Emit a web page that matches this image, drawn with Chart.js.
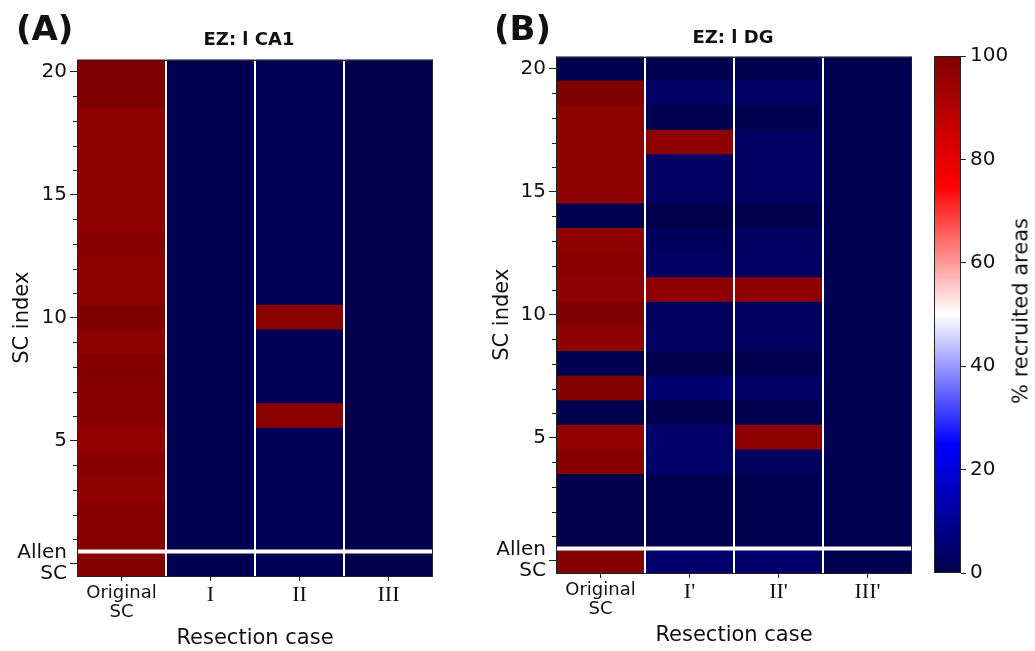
<!DOCTYPE html>
<html>
<head>
<meta charset="utf-8">
<script src="https://cdn.jsdelivr.net/npm/chart.js@4/dist/chart.umd.min.js"></script>
<style>
  body { margin: 0; background: #fff; }
  #fig { position: relative; width: 1035px; height: 651px; overflow: hidden; font-family: "DejaVu Sans", sans-serif; color: #111; }
  #fig canvas { position: absolute; top: 0; }
  .tag { position: absolute; font-weight: bold; font-size: 34px; line-height: 1; }
  .ttl { position: absolute; font-weight: bold; font-size: 18px; line-height: 1; white-space: nowrap; transform: translateX(-50%); }
  .cblabel { position: absolute; font-size: 21px; line-height: 1; white-space: nowrap; transform: translate(-50%, -50%) rotate(-90deg); }
</style>
</head>
<body>
<div id="fig">
  <canvas id="heatA" width="445" height="651" style="left:0"></canvas>
  <canvas id="heatB" width="445" height="651" style="left:480px"></canvas>
  <canvas id="cbar" width="110" height="651" style="left:925px"></canvas>
  <div class="tag" style="left:16px; top:11px">(A)</div>
  <div class="tag" style="left:494px; top:11px">(B)</div>
  <div class="ttl" style="left:249px; top:30px">EZ: l CA1</div>
  <div class="ttl" style="left:733px; top:28px">EZ: l DG</div>
  <div class="cblabel" style="left:1021px; top:311px">% recruited areas</div>
</div>
<script>
// SC index on the y axis, 0 is the Allen SC row
const scIndex = [0, 1, 2, 3, 4, 5, 6, 7, 8, 9, 10, 11, 12, 13, 14, 15, 16, 17, 18, 19, 20];
const allenLabel = ["Allen", "SC"];
const allenSplit = 0.5;

const casesA = [["Original", "SC"], "I", "II", "III"];
const casesB = [["Original", "SC"], "I'", "II'", "III'"];

// % recruited areas, listed from SC index 0 (Allen) up to 20
const ca1Original = [99, 98.5, 98.5, 96.5, 98.5, 96, 98.5, 98.5, 99.5, 96.5, 100, 97, 97, 98.5, 97, 97, 97, 97, 97, 100, 100];
const ca1CaseI    = [0.6, 0.6, 0.6, 0.6, 0.6, 0.6, 0.6, 0.6, 0.6, 0.6, 0.6, 0.6, 0.6, 0.6, 0.6, 0.6, 0.6, 0.6, 0.6, 0.6, 0.6];
const ca1CaseII   = [1.8, 1.8, 1.8, 1.8, 1.8, 1.8, 97.5, 1.8, 1.8, 1.8, 97.5, 1.8, 1.8, 1.8, 1.8, 1.8, 1.8, 1.8, 1.8, 1.8, 1.8];
const ca1CaseIII  = [0, 0, 0, 0, 0, 0, 0, 0, 0, 0, 0, 0, 0, 0, 0, 0, 0, 0, 0, 0, 0];

const dgOriginal  = [99, 0, 0, 0, 98.5, 96, 0.5, 99, 0.5, 97, 100, 97, 98, 97, 0.5, 97, 97, 97, 97, 100, 0.5];
const dgCaseI     = [3.8, 0.5, 0.5, 0.5, 3.8, 3.8, 0, 5, 0, 2.8, 2.4, 97, 3, 2.2, 0, 3, 3, 97, 0.2, 3.5, 0.5];
const dgCaseII    = [3.8, 0.5, 0.5, 0.5, 2.6, 96.5, 0.3, 3.5, 0.2, 3.2, 2.6, 97, 3.4, 3, 0, 3, 3, 3, 0.5, 3.5, 0.5];
const dgCaseIII   = [0.5, 0.5, 0.5, 0.5, 0.5, 0.5, 0.5, 0.5, 0.5, 0.5, 0.5, 0.5, 0.5, 0.5, 0.5, 0.5, 0.5, 0.5, 0.5, 0.5, 0.5];

const cbTicks = [0, 20, 40, 60, 80, 100];

// matplotlib "seismic": navy -> blue -> white -> red -> dark red
const seismicStops = [[0, 0, 0.3], [0, 0, 1], [1, 1, 1], [1, 0, 0], [0.5, 0, 0]];
const rgb = c => `rgb(${c.map(a => Math.round(a * 255)).join(",")})`;

function seismic(v) {
  const t = Math.min(Math.max(v / 100, 0), 1) * 4;
  const i = Math.min(Math.floor(t), 3);
  const f = t - i;
  return rgb(seismicStops[i].map((a, k) => a + (seismicStops[i + 1][k] - a) * f));
}

Chart.defaults.font.family = "'DejaVu Sans', sans-serif";
Chart.defaults.color = "#111";

// white separators, minor y ticks and the black frame
const heatFrame = {
  id: "heatFrame",
  afterDatasetsDraw(chart, args, opts) {
    const { ctx, chartArea: a, scales } = chart;
    const seg = (x1, y1, x2, y2) => { ctx.beginPath(); ctx.moveTo(x1, y1); ctx.lineTo(x2, y2); ctx.stroke(); };
    ctx.save();
    ctx.strokeStyle = "#fff";
    if (opts.columns) {
      ctx.lineWidth = 2;
      const x = scales.x;
      for (let i = 1; i < chart.data.labels.length; i++) {
        const px = (x.getPixelForValue(i - 1) + x.getPixelForValue(i)) / 2;
        seg(px, a.top, px, a.bottom);
      }
    }
    if (opts.split !== undefined) {
      ctx.lineWidth = 4;
      const py = scales.y.getPixelForValue(opts.split);
      seg(a.left, py, a.right, py);
    }
    ctx.strokeStyle = "#222";
    ctx.lineWidth = 1;
    if (opts.minorTicks) {
      scales.y.ticks.forEach(t => {
        if (t.value % 5 !== 0) {
          const py = Math.round(scales.y.getPixelForValue(t.value)) + 0.5;
          seg(a.left - 4, py, a.left, py);
        }
      });
    }
    ctx.strokeRect(Math.round(a.left) + 0.5, Math.round(a.top) + 0.5, Math.round(a.width) - 1, Math.round(a.height) - 1);
    ctx.restore();
  }
};

function heatmap(id, cases, columns, box) {
  const datasets = scIndex.map(i => ({
    label: i === 0 ? "Allen SC" : "SC " + i,
    data: cases.map(() => [i - 0.5, i + 0.5]),
    backgroundColor: columns.map(col => seismic(col[i])),
    borderWidth: 0,
    inflateAmount: 0.6,
    grouped: false,
    barPercentage: 1,
    categoryPercentage: 1
  }));

  return new Chart(document.getElementById(id), {
    type: "bar",
    data: { labels: cases, datasets },
    options: {
      responsive: false,
      animation: false,
      layout: { padding: { top: box.top, right: box.right, bottom: 0, left: 0 } },
      plugins: {
        legend: { display: false },
        tooltip: { enabled: false },
        heatFrame: { columns: true, split: allenSplit, minorTicks: true }
      },
      scales: {
        x: {
          border: { display: false },
          grid: { offset: false, drawOnChartArea: false, tickLength: 5, tickColor: "#222" },
          ticks: {
            padding: 2,
            maxRotation: 0,
            autoSkip: false,
            font: c => c.index === 0
              ? { family: "'DejaVu Sans'", size: 18, lineHeight: 1.1 }
              : { family: "'Liberation Serif'", size: 22, lineHeight: 1.1 }
          },
          title: { display: true, text: "Resection case", font: { size: 21 }, padding: { top: 0, bottom: box.xTitlePad } },
          afterFit: s => { s.height = box.xHeight; }
        },
        y: {
          min: -0.5,
          max: 20.5,
          afterBuildTicks: s => { s.ticks = scIndex.map(v => ({ value: v })); },
          border: { display: false },
          grid: {
            drawOnChartArea: false,
            tickLength: 7,
            tickColor: c => c.tick && c.tick.value % 5 === 0 ? "#222" : "rgba(0,0,0,0)"
          },
          ticks: {
            padding: 3,
            autoSkip: false,
            font: { size: 20, lineHeight: 1.05 },
            callback: v => v === 0 ? allenLabel : (v % 5 === 0 ? String(v) : "")
          },
          title: { display: true, text: "SC index", font: { size: 21 }, padding: { top: 10, bottom: 0 } },
          afterFit: s => { s.width = box.yWidth; }
        }
      }
    },
    plugins: [heatFrame]
  });
}

heatmap("heatA", casesA, [ca1Original, ca1CaseI, ca1CaseII, ca1CaseIII],
  { top: 59.5, right: 12, yWidth: 77, xHeight: 75, xTitlePad: 0 });
heatmap("heatB", casesB, [dgOriginal, dgCaseI, dgCaseII, dgCaseIII],
  { top: 56.5, right: 13, yWidth: 76, xHeight: 78, xTitlePad: 3 });

// colour bar
new Chart(document.getElementById("cbar"), {
  type: "bar",
  data: {
    labels: [""],
    datasets: [{
      data: [[cbTicks[0], cbTicks[cbTicks.length - 1]]],
      backgroundColor: c => {
        const area = c.chart.chartArea;
        if (!area) return null;
        const g = c.chart.ctx.createLinearGradient(0, area.bottom, 0, area.top);
        seismicStops.forEach((s, k) => g.addColorStop(k / (seismicStops.length - 1), rgb(s)));
        return g;
      },
      borderWidth: 0,
      barPercentage: 1,
      categoryPercentage: 1
    }]
  },
  options: {
    responsive: false,
    animation: false,
    layout: { padding: { top: 56, bottom: 78, left: 9, right: 0 } },
    plugins: { legend: { display: false }, tooltip: { enabled: false }, heatFrame: {} },
    scales: {
      x: { display: false },
      y: {
        position: "right",
        min: cbTicks[0],
        max: cbTicks[cbTicks.length - 1],
        afterBuildTicks: s => { s.ticks = cbTicks.map(v => ({ value: v })); },
        border: { display: false },
        grid: { drawOnChartArea: false, tickLength: 5, tickColor: "#222" },
        ticks: { padding: 4, autoSkip: false, font: { size: 20 } },
        afterFit: s => { s.width = 74; }
      }
    }
  },
  plugins: [heatFrame]
});
</script>
</body>
</html>
